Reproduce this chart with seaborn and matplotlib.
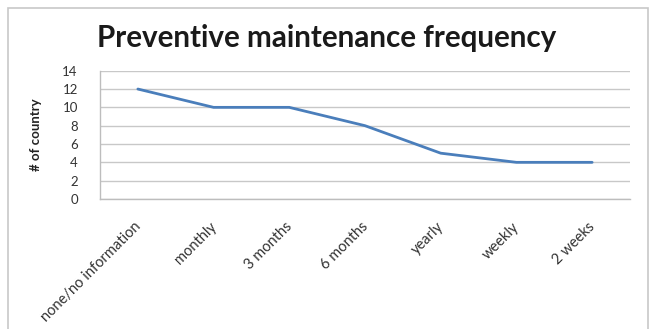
import matplotlib
matplotlib.use("Agg")
import matplotlib.pyplot as plt
import matplotlib.transforms as mtransforms
from matplotlib.patches import Rectangle
import seaborn as sns
import pandas as pd

# Number of countries per preventive maintenance frequency
categories = ["none/no information", "monthly", "3 months", "6 months",
              "yearly", "weekly", "2 weeks"]
countries = [12, 10, 10, 8, 5, 4, 4]
y_ticks = [0, 2, 4, 6, 8, 10, 12, 14]

df = pd.DataFrame({"frequency": categories, "countries": countries})

sns.set_theme(style="white")
plt.rcParams["font.family"] = ["Lato", "DejaVu Sans"]

W, H = 654, 329
fig = plt.figure(figsize=(W / 100, H / 100), dpi=100)
fig.patch.set_facecolor("white")

# chart frame
fig.patches.append(Rectangle((8 / W, -0.1), (648 - 8) / W, 1.1 - 8 / H,
                             transform=fig.transFigure, fill=False,
                             edgecolor="#c8c8c8", linewidth=1.2))

left, right, top, bottom = 100, 630, 70.7, 199
ax = fig.add_axes([left / W, (H - bottom) / H, (right - left) / W,
                   (bottom - top) / H])

x = list(range(len(categories)))
sns.lineplot(x=x, y=df["countries"], ax=ax, color="#4a7ebb", linewidth=2)

ax.set_xlim(-0.5, len(categories) - 0.5)
ax.set_ylim(0, 14)
ax.set_yticks(y_ticks)
ax.set_yticklabels([str(v) for v in y_ticks], fontsize=9.5, color="#333333")
ax.yaxis.grid(True, color="#c8c8c8", linewidth=1)
ax.set_axisbelow(True)
for side in ["top", "right"]:
    ax.spines[side].set_visible(False)
for side in ["left", "bottom"]:
    ax.spines[side].set_color("#bdbdbd")
    ax.spines[side].set_linewidth(1)
ax.tick_params(axis="y", length=0, pad=16)
ax.tick_params(axis="x", length=0, pad=4)

ax.set_xticks(x)
ax.set_xticklabels(categories, rotation=45, ha="right",
                   rotation_mode="anchor", fontsize=10.5, color="#333333")
shift = mtransforms.ScaledTranslation(-0.04, -0.15, fig.dpi_scale_trans)
for lbl in ax.get_xticklabels():
    lbl.set_transform(lbl.get_transform() + shift)

ax.set_xlabel("")
ax.set_ylabel("# of country", fontsize=9.5, fontweight="bold", color="#222222")
ax.yaxis.set_label_coords(-58 / (right - left), 0.5)

fig.text(327 / W, 1 - 38 / H, "Preventive maintenance frequency",
         ha="center", va="center", fontsize=21.3, fontweight="bold",
         color="#1a1a1a")

fig.savefig("out.png", dpi=100)
